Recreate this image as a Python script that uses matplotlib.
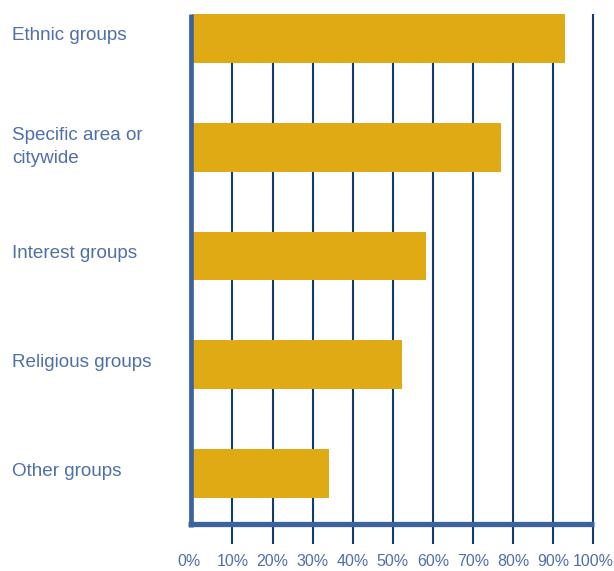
import matplotlib
matplotlib.use("Agg")
import matplotlib.pyplot as plt

# Share of groups by type (percent)
categories = ["Ethnic groups", "Specific area or\ncitywide", "Interest groups",
              "Religious groups", "Other groups"]
values = [93, 77, 58.3, 52.3, 34]
tick_values = [0, 10, 20, 30, 40, 50, 60, 70, 80, 90, 100]
tick_labels = [f"{t}%" for t in tick_values]

BAR = "#e0aa14"
GRID = "#0d3f6e"
AXIS = "#3a63a0"
TEXT = "#4f6fa9"
FONT = ["Liberation Sans", "DejaVu Sans"]

W, H = 614, 571
fig = plt.figure(figsize=(W / 100, H / 100), dpi=100)

x0, x1 = 192.3, 593.3          # 0% and 100% in pixels
y_top, y_bot = 14, 524          # plot area top / bottom in pixels (from top)
ax = fig.add_axes([x0 / W, 1 - y_bot / H, (x1 - x0) / W, (y_bot - y_top) / H])

step = 108.8                    # pixels between category centres
half = 0.225
ax.set_xlim(0, 100)
ax.set_ylim(len(categories) - 1 + (y_bot - 473.5) / step, -half)
ax.axis("off")

# vertical grid lines, extending below the baseline
grid_bottom = len(categories) - 1 + (544 - 473.5) / step
ax.vlines(tick_values[1:], -half, grid_bottom, colors=GRID, linewidth=1.5,
          zorder=1, clip_on=False)

# bars
ax.barh(range(len(categories)), values, height=2 * half, color=BAR,
        zorder=2, linewidth=0)

# thick axis lines
ax.plot([-0.3, -0.3], [-half, len(categories) - 1 + (527 - 473.5) / step],
        color=AXIS, linewidth=3.4, solid_capstyle="butt", zorder=3, clip_on=False)
ax.plot([-1.1, 100.2], [len(categories) - 1 + (524 - 473.5) / step] * 2,
        color=AXIS, linewidth=3.8, solid_capstyle="butt", zorder=3, clip_on=False)

# category labels, one text per line, baselines set in pixels
line_gap = 22.3
for i, lab in enumerate(categories):
    lines = lab.split("\n")
    first = 2 - (len(lines) - 1) * 9
    for k, line in enumerate(lines):
        ax.annotate(line, xy=(12, i), xycoords=("figure pixels", "data"),
                    xytext=(0, -(first + k * line_gap)), textcoords="offset pixels",
                    ha="left", va="baseline", fontsize=13.6, color=TEXT,
                    family=FONT)

# percentage tick labels
for t, lab in zip(tick_values, tick_labels):
    ax.annotate(lab, xy=(t, 0), xycoords=("data", "figure pixels"),
                xytext=(-3 if t == 0 else 0, H - 562), textcoords="offset pixels",
                ha="center", va="center", fontsize=11.5, color=TEXT, family=FONT)

fig.savefig("out.png", dpi=100)
